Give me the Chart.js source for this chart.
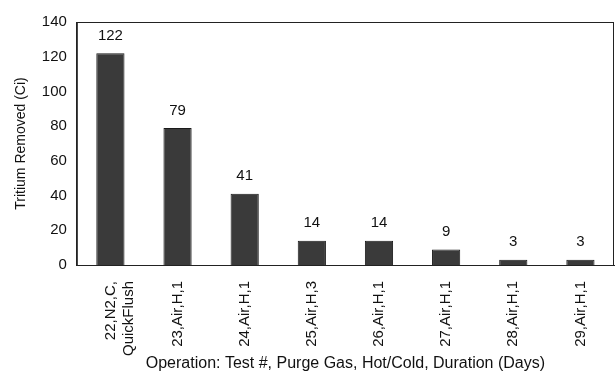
<!DOCTYPE html>
<html>
<head>
<meta charset="utf-8">
<script src="https://cdn.jsdelivr.net/npm/chart.js@4/dist/chart.umd.min.js"></script>
<style>
  html, body { margin: 0; padding: 0; background: #fff; }
  #wrap { width: 615px; height: 373px; }
</style>
</head>
<body>
<div id="wrap"><canvas id="chart"></canvas></div>
<script>
// data
const categories = [
  ["22,N2,C,", "QuickFlush"],
  "23,Air,H,1",
  "24,Air,H,1",
  "25,Air,H,3",
  "26,Air,H,1",
  "27,Air,H,1",
  "28,Air,H,1",
  "29,Air,H,1"
];
const tritiumRemoved = [122, 79, 41, 14, 14, 9, 3, 3];
const yTicks = [0, 20, 40, 60, 80, 100, 120, 140];

const FONT = "Arial, 'Liberation Sans', sans-serif";

// frame round the plot area
const framePlugin = {
  id: "frame",
  afterDraw(chart) {
    const { ctx, chartArea: a } = chart;
    ctx.save();
    ctx.strokeStyle = "#222";
    ctx.lineWidth = 1;
    ctx.strokeRect(a.left + 0.5, a.top + 0.5, a.right - a.left - 1, a.bottom - a.top);
    ctx.restore();
  }
};

// value labels over each bar
const valueLabels = {
  id: "valueLabels",
  afterDatasetsDraw(chart) {
    const { ctx } = chart;
    const meta = chart.getDatasetMeta(0);
    ctx.save();
    ctx.fillStyle = "#111";
    ctx.font = "15px " + FONT;
    ctx.textAlign = "center";
    ctx.textBaseline = "bottom";
    meta.data.forEach((bar, i) => {
      ctx.fillText(String(tritiumRemoved[i]), bar.x, bar.y - 10);
    });
    ctx.restore();
  }
};

new Chart(document.getElementById("chart"), {
  type: "bar",
  data: {
    labels: categories,
    datasets: [{
      data: tritiumRemoved,
      backgroundColor: "#3a3a3a",
      borderColor: "#1a1a1a",
      borderWidth: 1,
      categoryPercentage: 1,
      barPercentage: 0.42
    }]
  },
  options: {
    responsive: true,
    maintainAspectRatio: false,
    animation: false,
    layout: { padding: { top: 22, right: 1, left: 13, bottom: 0 } },
    plugins: {
      legend: { display: false },
      tooltip: { enabled: false }
    },
    scales: {
      x: {
        grid: { display: false, drawTicks: false },
        border: { color: "#222" },
        afterFit(scale) {
          scale.height = 108;
        },
        ticks: {
          color: "#111",
          font: { family: FONT, size: 15 },
          maxRotation: 90,
          minRotation: 90,
          padding: 16,
          autoSkip: false
        },
        title: {
          display: true,
          text: "Operation: Test #, Purge Gas, Hot/Cold, Duration (Days)",
          color: "#111",
          font: { family: FONT, size: 16 },
          padding: { top: 0, bottom: 0 }
        }
      },
      y: {
        min: 0,
        max: 140,
        afterBuildTicks(scale) {
          scale.ticks = yTicks.map(v => ({ value: v }));
        },
        grid: { display: false, drawTicks: true, tickLength: 4, tickColor: "#222" },
        border: { color: "#222" },
        ticks: {
          color: "#111",
          font: { family: FONT, size: 15 },
          padding: 6
        },
        title: {
          display: true,
          text: "Tritium Removed (Ci)",
          color: "#111",
          font: { family: FONT, size: 14 },
          padding: { top: 0, bottom: 6 }
        }
      }
    }
  },
  plugins: [framePlugin, valueLabels]
});
</script>
</body>
</html>
